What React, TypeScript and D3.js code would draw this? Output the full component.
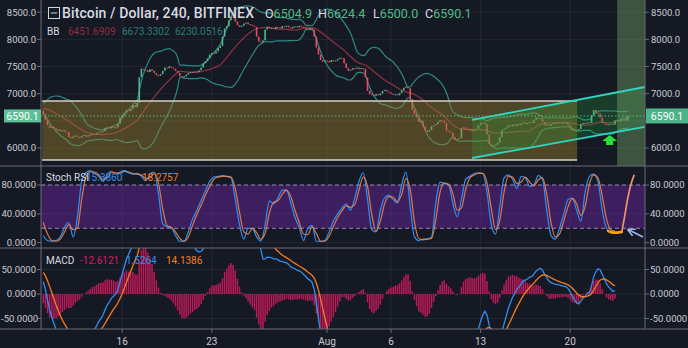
import React from 'react';
import * as d3 from 'd3';

const W = 688;
const H = 348;
const HOUR = 3600e3;
const candleStart = Date.UTC(2018, 6, 9, 20);
const candleStepH = 4;
const stochStepH = 8;

// estimated 4h closes before the visible range (indicator seed)
const warmupCloses = [
  6500, 6560, 6600, 6580, 6620, 6590,
  6560, 6540, 6520, 6500, 6530, 6560,
  6520, 6500, 6480, 6510, 6550, 6600,
  6650, 6700, 6740, 6760, 6780, 6750,
  6770, 6790, 6760, 6740, 6720, 6750,
  6770, 6760, 6740, 6720, 6700, 6690,
];

// 4h closes, BTC/USD Bitfinex, from 9 Jul 20:00
const closes = [
  6620, 6520, 6420, 6370, 6390, 6360,
  6320, 6340, 6310, 6330, 6300, 6290,
  6200, 6180, 6210, 6230, 6200, 6190, 6220, 6240, 6210, 6230,
  6240, 6260, 6250, 6280, 6300, 6290, 6310,
  6370, 6380, 6360, 6390, 6370, 6380,
  6450, 6560, 6610, 6650, 6700, 6680, 6720,
  6790, 6750, 6830, 7300, 7460, 7440,
  7430, 7400, 7450, 7420, 7380, 7340, 7330, 7360,
  7420, 7480, 7470, 7500, 7480, 7460,
  7420, 7380, 7320, 7300,
  7320, 7350, 7380, 7400, 7390, 7410, 7400, 7430,
  7480, 7560, 7600, 7650, 7720, 7750, 7740,
  7780, 7840, 7880, 8050, 8200, 8240,
  8350, 8420, 8400, 8330, 8260, 8230, 8250,
  8290, 8310, 8280, 8270, 8250, 8230,
  8050, 7960, 7950, 7980, 8180, 8230,
  8200, 8210, 8190, 8230, 8220, 8200, 8240, 8230, 8250, 8220, 8200,
  8230, 8240, 8220, 8250, 8230, 8210, 8200, 8190, 8210, 8180,
  8050, 7850, 7720, 7620,
  7590, 7610, 7600, 7580, 7620, 7600, 7610, 7640,
  7660, 7650, 7560, 7470,
  7420, 7440, 7470, 7460, 7480, 7450, 7470, 7460,
  7300, 7050, 6990,
  6980, 6960, 6990, 6970, 7000, 7050, 7070,
  7040, 7020, 7000, 6980, 6990, 6970,
  7010, 7060, 7110, 7130, 7100,
  6900, 6700, 6620, 6560, 6480, 6500,
  6400, 6330, 6300, 6330, 6400, 6420, 6440,
  6480, 6510, 6500, 6460, 6320, 6300, 6280,
  6200, 6150, 6160, 6180, 6360, 6380, 6350,
  6330, 6340, 6310, 6330, 6350, 6420,
  6460, 6470, 6440, 6250, 6080, 6030,
  6050, 6060, 6100, 6200, 6330, 6350, 6380,
  6420, 6400, 6430, 6410, 6440, 6420,
  6450, 6470, 6440, 6460, 6480, 6460,
  6520, 6560, 6540, 6550, 6480, 6420, 6430, 6410, 6440,
  6460, 6450, 6470, 6460, 6450, 6470, 6460,
  6420, 6380, 6330, 6340, 6320, 6350,
  6440, 6460, 6450, 6470, 6460,
  6600, 6700, 6650, 6640, 6560, 6470,
  6450, 6420, 6440, 6450, 6430,
  6510, 6520, 6500, 6550, 6560, 6505, 6590.1,
];

// Stoch RSI, 8h samples from 9 Jul 20:00
const stochK = [
  10, 3, 2, 3, 8, 22, 28, 8, 35, 85,
  97, 100, 96, 92, 85, 95, 99, 95, 98, 100,
  97, 95, 96, 92, 86, 95, 98, 68, 26, 22,
  21, 10, 2, 2, 15, 33, 45, 59, 72, 85,
  91, 92, 93, 92, 90, 60, 25, 5, 20, 20,
  8, 2, 25, 58, 54, 62, 73, 73, 55, 35,
  21, 3, 20, 24, 2, 2, 3, 15, 30, 40,
  48, 54, 45, 62, 85, 97, 60, 18, 15, 45,
  62, 66, 60, 55, 80, 98, 50, 8, 3, 5,
  5, 8, 55, 84, 82, 80, 55, 36, 60, 88,
  92, 96, 97, 96, 70, 25, 12, 50, 90, 94,
  88, 75, 92, 90, 78, 80, 93, 88, 45, 10,
  5, 20, 40, 60, 62, 45, 30, 70, 92, 95,
  85, 45, 20, 15, 14,
];
const stochD = [
  28, 12, 3, 2, 5, 15, 25, 18, 20, 60,
  91, 98, 98, 94, 88, 90, 97, 97, 96, 99,
  98, 96, 95, 94, 89, 90, 96, 83, 47, 24,
  21, 15, 6, 2, 8, 24, 39, 52, 66, 78,
  88, 91, 92, 92, 91, 75, 42, 15, 12, 20,
  14, 5, 13, 41, 56, 58, 67, 73, 64, 45,
  28, 12, 11, 22, 13, 2, 2, 9, 22, 35,
  44, 51, 49, 53, 73, 91, 78, 39, 16, 30,
  54, 64, 63, 57, 67, 89, 74, 29, 6, 4,
  5, 6, 32, 70, 83, 81, 68, 45, 48, 74,
  90, 94, 96, 96, 83, 48, 18, 31, 70, 92,
  91, 82, 84, 91, 84, 79, 87, 90, 67, 28,
  8, 12, 30, 50, 61, 54, 38, 50, 81, 94,
  90, 65, 33, 18, 16,
];
// hand-drawn highlight / projection on the Stoch pane (sample index, value)
const stochHighlightIdx = [132.4, 133.5, 134.5, 135.6];
const stochHighlightVal = [16, 14, 14, 15];
const stochProjIdx = [135.6, 136.3, 137.0, 137.7, 138.5];
const stochProjVal = [15, 38, 62, 80, 94];

const priceTicks = [6000, 6500, 7000, 7500, 8000, 8500];
const hiddenPriceLabels = [6500];
const stochTicks = [0, 40, 80];
const macdTicks = [-50, 0, 50];
const dateTicks = [
  Date.UTC(2018, 6, 16), Date.UTC(2018, 6, 23), Date.UTC(2018, 7, 1),
  Date.UTC(2018, 7, 6), Date.UTC(2018, 7, 13), Date.UTC(2018, 7, 20),
];
const dateTickLabels = ['16', '23', 'Aug', '6', '13', '20'];

// drawings
const rangeBoxTime = [Date.UTC(2018, 6, 9, 18), Date.UTC(2018, 7, 20, 13)];
const rangeBoxPrice = [6866, 5779];
const channelTime = [Date.UTC(2018, 7, 12, 8), Date.UTC(2018, 7, 25, 20)];
const channelUpper = [6516, 7123];
const channelLower = [5816, 6387];
const zoneTime = [Date.UTC(2018, 7, 23, 16), Date.UTC(2018, 7, 25, 20)];
const arrowTime = Date.UTC(2018, 7, 23, 2);
const arrowPrice = 6240;
const lastPrice = 6590.1;

const macdShown = 269;

const headerOHLC = [
  ['O', '6504.9'], ['H', '6624.4'], ['L', '6500.0'], ['C', '6590.1'],
];
const bbLegend = ['6451.6909', '6673.3302', '6230.0516'];
const stochLegend = ['15.3860', '18.2757'];
const macdLegend = ['-12.6121', '1.5264', '14.1386'];

function ema(arr: number[], n: number) {
  const k = 2 / (n + 1);
  const out: number[] = [];
  let prev = arr[0];
  arr.forEach((v, i) => {
    prev = i === 0 ? v : v * k + prev * (1 - k);
    out.push(prev);
  });
  return out;
}

const BG = '#151924';
const AXIS = '#6a6d78';
const TXT = '#c9ccd4';
const GREEN = '#53b987';
const RED = '#eb4d5c';
const FONT = "Roboto, 'Noto Sans', sans-serif";

const L = 41, R = 645;
const MAIN = [0, 166];
const STOCH = [166, 248];
const MACDP = [248, 329];

export default function App() {
  const x = d3.scaleUtc()
    .domain([Date.UTC(2018, 6, 16), Date.UTC(2018, 7, 20)])
    .range([122.2, 570.2]);
  const y = d3.scaleLinear().domain([6000, 8500]).range([148, 12.2]);
  const ys = d3.scaleLinear().domain([0, 80]).range([242.7, 185]);
  const ym = d3.scaleLinear().domain([-50, 50]).range([318.5, 269.5]);

  const tC = (i: number) => candleStart + i * candleStepH * HOUR;
  const tS = (k: number) => candleStart + k * stochStepH * HOUR;

  const all = [...warmupCloses, ...closes];
  const W0 = warmupCloses.length;
  const e12 = ema(all, 12);
  const e26 = ema(all, 26);
  const macdAll = e12.map((v, i) => v - e26[i]);
  const sigAll = ema(macdAll, 9);
  const macd = macdAll.slice(W0);
  const sig = sigAll.slice(W0);
  const hist = macd.map((v, i) => v - sig[i]);

  const bb = closes.map((_, i) => {
    const g = i + W0;
    const win = all.slice(g - 19, g + 1);
    const m = d3.mean(win) as number;
    const sd = Math.sqrt(d3.mean(win.map((v) => (v - m) * (v - m))) as number);
    return { m, u: m + 2 * sd, l: m - 2 * sd };
  });

  const bbLine = (key: 'm' | 'u' | 'l') =>
    d3.line<any>().x((_, i) => x(tC(i))).y((d) => y(d[key])).curve(d3.curveMonotoneX)(bb) as string;

  const stochLine = (arr: number[]) =>
    d3.line<number>().x((_, k) => x(tS(k))).y((v) => ys(v)).curve(d3.curveMonotoneX)(arr) as string;
  const pairLine = (idx: number[], val: number[]) =>
    d3.line<number>().x((k) => x(tS(k))).y((_, j) => ys(val[j])).curve(d3.curveMonotoneX)(idx) as string;

  const macdLine = (arr: number[]) =>
    d3.line<number>().x((_, i) => x(tC(i))).y((v) => ym(v))(arr.slice(0, macdShown)) as string;

  const cw = 1.6;

  const chX0 = x(channelTime[0]), chX1 = x(channelTime[1]);
  const channelPoly = [
    [chX0, y(channelUpper[0])], [chX1, y(channelUpper[1])],
    [chX1, y(channelLower[1])], [chX0, y(channelLower[0])],
  ].map((p) => p.join(',')).join(' ');

  const ax = x(arrowTime), ay = y(arrowPrice);

  return (
    <svg width={W} height={H} style={{ position: 'absolute', left: 0, top: 0 }} fontFamily={FONT}>
      <defs>
        <clipPath id="cMain"><rect x={L} y={MAIN[0]} width={R - L} height={MAIN[1] - MAIN[0]} /></clipPath>
        <clipPath id="cStoch"><rect x={L} y={STOCH[0]} width={R - L} height={STOCH[1] - STOCH[0]} /></clipPath>
        <clipPath id="cMacd"><rect x={L} y={MACDP[0]} width={R - L} height={MACDP[1] - MACDP[0]} /></clipPath>
        <marker id="ah" viewBox="0 0 10 10" refX="8" refY="5" markerWidth="5" markerHeight="5" orient="auto">
          <path d="M0,0 L10,5 L0,10" fill="none" stroke="#9fb4ea" strokeWidth="2" />
        </marker>
      </defs>
      <rect x={0} y={0} width={W} height={H} fill={BG} />

      {/* grid */}
      <g stroke="#ffffff" strokeOpacity={0.06}>
        {dateTicks.map((d) => <line key={d} x1={x(d)} x2={x(d)} y1={0} y2={MACDP[1]} />)}
        {priceTicks.map((p) => <line key={p} x1={L} x2={R} y1={y(p)} y2={y(p)} />)}
        {stochTicks.map((p) => <line key={p} x1={L} x2={R} y1={ys(p)} y2={ys(p)} />)}
        {macdTicks.map((p) => <line key={p} x1={L} x2={R} y1={ym(p)} y2={ym(p)} />)}
      </g>

      {/* main pane */}
      <g clipPath="url(#cMain)">
        <path d={bbLine('u')} fill="none" stroke="#2c8a83" strokeWidth={1.2} />
        <path d={bbLine('l')} fill="none" stroke="#2c8a83" strokeWidth={1.2} />
        <path d={bbLine('m')} fill="none" stroke="#8f3240" strokeWidth={1.2} />
        {closes.map((c, i) => {
          const o = i === 0 ? warmupCloses[W0 - 1] : closes[i - 1];
          const up = c >= o;
          const top = y(Math.max(o, c));
          const h = Math.max(1, y(Math.min(o, c)) - top);
          return <rect key={i} x={x(tC(i)) - cw / 2} y={top} width={cw} height={h} fill={up ? GREEN : RED} />;
        })}
        {/* range box */}
        <rect x={x(rangeBoxTime[0])} y={y(rangeBoxPrice[0])} width={x(rangeBoxTime[1]) - x(rangeBoxTime[0])}
          height={y(rangeBoxPrice[1]) - y(rangeBoxPrice[0])} fill="rgba(160,130,45,0.42)" />
        <line x1={x(rangeBoxTime[0])} x2={x(rangeBoxTime[1])} y1={y(rangeBoxPrice[0])} y2={y(rangeBoxPrice[0])} stroke="#d8d2c4" strokeWidth={1.6} />
        <line x1={x(rangeBoxTime[0])} x2={x(rangeBoxTime[1])} y1={y(rangeBoxPrice[1])} y2={y(rangeBoxPrice[1])} stroke="#d8d2c4" strokeWidth={1.6} />
        {/* channel */}
        <polygon points={channelPoly} fill="rgba(40,170,60,0.25)" />
        <rect x={x(zoneTime[0])} y={MAIN[0]} width={x(zoneTime[1]) - x(zoneTime[0])} height={MAIN[1] - MAIN[0]} fill="rgba(110,160,100,0.45)" />
        <line x1={chX0} x2={chX1} y1={y(channelUpper[0])} y2={y(channelUpper[1])} stroke="#2fd6c2" strokeWidth={1.8} />
        <line x1={chX0} x2={chX1} y1={y(channelLower[0])} y2={y(channelLower[1])} stroke="#2fd6c2" strokeWidth={1.8} />
        {/* last price line */}
        <line x1={L} x2={R} y1={y(lastPrice)} y2={y(lastPrice)} stroke={GREEN} strokeWidth={1} strokeDasharray="1.5,2" />
        {/* green arrow */}
        <path d={`M${ax},${ay} L${ax + 7.5},${ay + 6} L${ax + 3.5},${ay + 6} L${ax + 3.5},${ay + 10} L${ax - 3.5},${ay + 10} L${ax - 3.5},${ay + 6} L${ax - 7.5},${ay + 6} Z`} fill="#27e03a" />
      </g>

      {/* stoch pane */}
      <rect x={L} y={ys(80)} width={R - L} height={ys(20) - ys(80)} fill="rgba(110,40,170,0.45)" />
      <g stroke="#9a86b8" strokeDasharray="4,3" strokeWidth={1}>
        <line x1={L} x2={R} y1={ys(80)} y2={ys(80)} />
        <line x1={L} x2={R} y1={ys(20)} y2={ys(20)} />
      </g>
      <g clipPath="url(#cStoch)" fill="none">
        <path d={stochLine(stochK)} stroke="#2f8ff0" strokeWidth={1.2} />
        <path d={stochLine(stochD)} stroke="#f7884a" strokeWidth={1.2} strokeOpacity={0.85} />
        <path d={pairLine(stochProjIdx, stochProjVal)} stroke="#f49a6a" strokeWidth={1.6} />
        <path d={pairLine(stochHighlightIdx, stochHighlightVal)} stroke="#ff9d10" strokeWidth={2.6} strokeLinecap="round" />
      </g>
      <line x1={643} y1={237} x2={629} y2={230} stroke="#9fb4ea" strokeWidth={1.6} markerEnd="url(#ah)" />

      {/* macd pane */}
      <g clipPath="url(#cMacd)">
        {hist.slice(0, macdShown).map((v, i) => (
          <rect key={i} x={x(tC(i)) - 0.75} width={1.5} y={Math.min(ym(v), ym(0))} height={Math.abs(ym(v) - ym(0))} fill="#d81b60" fillOpacity={0.85} />
        ))}
        <path d={macdLine(macd)} fill="none" stroke="#2f8ff0" strokeWidth={1.3} />
        <path d={macdLine(sig)} fill="none" stroke="#f57c1f" strokeWidth={1.3} />
      </g>

      {/* separators and axes */}
      <g stroke={AXIS} strokeWidth={1}>
        <line x1={L} x2={L} y1={0} y2={MACDP[1]} />
        <line x1={R} x2={R} y1={0} y2={MACDP[1]} />
        <line x1={0} x2={W} y1={MAIN[1]} y2={MAIN[1]} />
        <line x1={0} x2={W} y1={STOCH[1]} y2={STOCH[1]} />
        <line x1={0} x2={W} y1={MACDP[1]} y2={MACDP[1]} />
      </g>

      {/* axis labels */}
      <g fontSize={9.5} fill={TXT}>
        {priceTicks.map((p) => (
          <g key={p}>
            <line x1={37} x2={L} y1={y(p)} y2={y(p)} stroke={AXIS} />
            <line x1={R} x2={R + 4} y1={y(p)} y2={y(p)} stroke={AXIS} />
            {hiddenPriceLabels.includes(p) ? null : (
              <>
                <text x={36} y={y(p)} dy="0.35em" textAnchor="end">{p.toFixed(1)}</text>
                <text x={651} y={y(p)} dy="0.35em">{p.toFixed(1)}</text>
              </>
            )}
          </g>
        ))}
        {stochTicks.map((p) => (
          <g key={p}>
            <line x1={37} x2={L} y1={ys(p)} y2={ys(p)} stroke={AXIS} />
            <line x1={R} x2={R + 4} y1={ys(p)} y2={ys(p)} stroke={AXIS} />
            <text x={36} y={ys(p)} dy="0.35em" textAnchor="end">{p.toFixed(4)}</text>
            <text x={650} y={ys(p)} dy="0.35em">{p.toFixed(4)}</text>
          </g>
        ))}
        {macdTicks.map((p) => (
          <g key={p}>
            <line x1={37} x2={L} y1={ym(p)} y2={ym(p)} stroke={AXIS} />
            <line x1={R} x2={R + 4} y1={ym(p)} y2={ym(p)} stroke={AXIS} />
            <text x={p < 0 ? 1 : 36} y={ym(p)} dy="0.35em" textAnchor={p < 0 ? 'start' : 'end'}>{p.toFixed(4)}</text>
            <text x={650} y={ym(p)} dy="0.35em">{p.toFixed(4)}</text>
          </g>
        ))}
        {dateTicks.map((d, i) => (
          <g key={d}>
            <line x1={x(d)} x2={x(d)} y1={MACDP[1]} y2={MACDP[1] + 4} stroke={AXIS} />
            <text x={x(d)} y={341} dy="0.35em" textAnchor="middle" fontSize={10}>{dateTickLabels[i]}</text>
          </g>
        ))}
      </g>

      {/* last price labels */}
      <rect x={646} y={y(lastPrice) - 7.5} width={42} height={15} fill="#4db388" />
      <text x={667} y={y(lastPrice)} dy="0.36em" textAnchor="middle" fontSize={10.5} fill="#ffffff">{lastPrice.toFixed(1)}</text>
      <rect x={4} y={y(lastPrice) - 6.5} width={37} height={13} fill="#5cbf95" />
      <text x={22.5} y={y(lastPrice)} dy="0.36em" textAnchor="middle" fontSize={10.5} fill="#ffffff">{lastPrice.toFixed(1)}</text>

      {/* header */}
      <rect x={48.5} y={7.5} width={11} height={11} fill="none" stroke="#d1d4dc" strokeWidth={1} />
      <line x1={51} x2={57} y1={13} y2={13} stroke="#d1d4dc" />
      <text x={62} y={18} fontSize={14} fontWeight={500} fill="#d8dbe2" textLength={192} lengthAdjust="spacing">Bitcoin / Dollar, 240, BITFINEX</text>
      {headerOHLC.map(([k, v], i) => (
        <text key={k} x={[265, 318, 373, 425][i]} y={18} fontSize={12.5} fill="#d8dbe2">
          {k}<tspan fill={GREEN}>{v}</tspan>
        </text>
      ))}
      <g fontSize={10}>
        <text x={47} y={35} fill="#d8dbe2">BB</text>
        <text x={68} y={35} fill="#8f2e3c">{bbLegend[0]}</text>
        <text x={122} y={35} fill="#2a7d78">{bbLegend[1]}</text>
        <text x={175} y={35} fill="#2a7d78">{bbLegend[2]}</text>

        <text x={46} y={181} fill="#d8dbe2">Stoch RSI</text>
        <text x={86} y={181} fill="#2f8ff0">{stochLegend[0]}</text>
        <text x={142} y={181} fill="#f57c1f">{stochLegend[1]}</text>

        <text x={46} y={264} fill="#d8dbe2">MACD</text>
        <text x={80} y={264} fill="#d81b60">{macdLegend[0]}</text>
        <text x={126} y={264} fill="#2f8ff0">{macdLegend[1]}</text>
        <text x={166} y={264} fill="#f57c1f">{macdLegend[2]}</text>
      </g>
    </svg>
  );
}
